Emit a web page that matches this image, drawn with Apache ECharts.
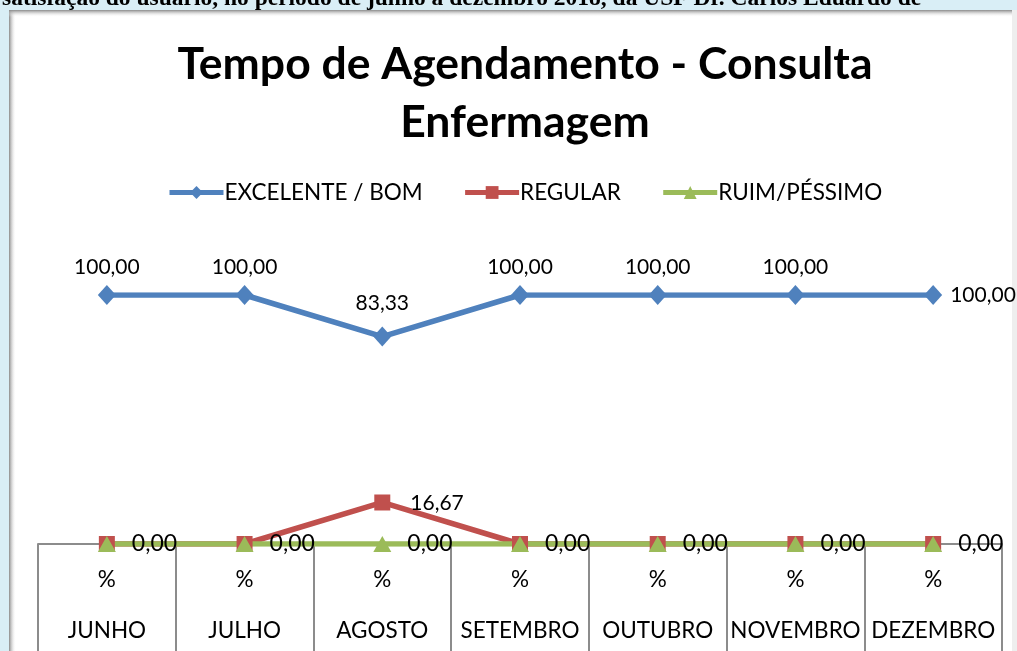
<!DOCTYPE html>
<html><head><meta charset="utf-8">
<script src="https://cdn.jsdelivr.net/npm/echarts@6/dist/echarts.min.js"></script>
<style>html,body{margin:0;padding:0;background:#d9eef6;}#c{width:1017px;height:651px;}</style>
</head><body><div id="c"></div>
<script>
var categories = ['JUNHO','JULHO','AGOSTO','SETEMBRO','OUTUBRO','NOVEMBRO','DEZEMBRO'];
var excelenteBom = [100, 100, 83.33, 100, 100, 100, 100];
var regular = [0, 0, 16.67, 0, 0, 0, 0];
var ruimPessimo = [0, 0, 0, 0, 0, 0, 0];
var seriesNames = ['EXCELENTE / BOM', 'REGULAR', 'RUIM/PÉSSIMO'];
var titleText = 'Tempo de Agendamento - Consulta\nEnfermagem';
var headerText = 'satisfação do usuário, no período de junho a dezembro 2018, da USF Dr. Carlos Eduardo de';

var FONT = 'Lato';
function fmt(v){ return v.toFixed(2).replace('.', ','); }
var chart = echarts.init(document.getElementById('c'), null, {renderer:'canvas'});
var lastIdx = categories.length - 1;
var blueMax = Math.max.apply(null, excelenteBom);

var blueData = excelenteBom.map(function(v,i){
  if (i === lastIdx) return {value:v, label:{position:'right', distance:8}};
  if (v < blueMax) return {value:v, label:{distance:13}};
  return v;
});
var redData = regular.map(function(v,i){
  return v > 0 ? {value:v, label:{show:true, position:'right', distance:20, offset:[0,1], fontSize:21}} : v;
});

chart.setOption({
  backgroundColor: 'transparent',
  animation: false,
  graphic: [
    {type:'rect', z:-10, shape:{x:9,y:10,width:1003,height:700}, style:{fill:'#ffffff'}},
    {type:'rect', z:-9, shape:{x:9,y:10,width:7,height:700}, style:{fill:new echarts.graphic.LinearGradient(0,0,1,0,[{offset:0,color:'#8a8a8a'},{offset:1,color:'rgba(255,255,255,0)'}])}},
    {type:'rect', z:-9, shape:{x:9,y:10,width:1003,height:7}, style:{fill:new echarts.graphic.LinearGradient(0,0,0,1,[{offset:0,color:'#8a8a8a'},{offset:1,color:'rgba(255,255,255,0)'}])}},
    {type:'rect', z:-9, shape:{x:1012,y:10,width:5,height:700}, style:{fill:'#eeeeee'}},
    {type:'text', z:-11, style:{x:2, y:-1, text:headerText, fill:'#000', font:'bold 23.5px "Liberation Serif"', verticalAlign:'middle', align:'left'}}
  ],
  title: {
    text: titleText, left: 520, textAlign:'center', top: 31,
    textStyle: {fontFamily: FONT, fontWeight:'bold', fontSize: 44.5, color:'#000', lineHeight: 58}
  },
  legend: {
    top: 176, left: 162,
    itemWidth: 54, itemHeight: 16, itemGap: 40,
    lineStyle: {width: 5},
    textStyle: {fontFamily: FONT, fontSize: 22.5, color:'#000', padding:[0,0,0,-4]},
    data: seriesNames
  },
  grid: {left: 38, right: 15, top: 295, bottom: 107, containLabel: false, outerBoundsMode: 'none'},
  xAxis: {
    type:'category', data: categories, boundaryGap: true,
    axisLine: {show:true, lineStyle:{color:'#8c8c8c', width:2}},
    axisTick: {show:true, length:110, lineStyle:{color:'#8c8c8c', width:2}},
    axisLabel: {
      margin: 10, interval: 0,
      formatter: function(v){ return '%\n' + v; },
      fontFamily: FONT, fontSize: 22.5, color:'#000', lineHeight: 51
    }
  },
  yAxis: {type:'value', min:0, max:100, show:false, splitLine:{show:false}},
  series: [
    {name: seriesNames[0], type:'line', data: blueData, symbol:'diamond', symbolSize:[18,20],
      itemStyle:{color:'#4f81bd'}, lineStyle:{width:5.5, color:'#4f81bd'},
      label:{show:true, position:'top', distance:7, formatter:function(p){return fmt(p.value);}, fontFamily:FONT, fontSize:21, color:'#000'}},
    {name: seriesNames[1], type:'line', data: redData, symbol:'rect', symbolSize:16,
      itemStyle:{color:'#c0504d'}, lineStyle:{width:5.5, color:'#c0504d'},
      label:{show:false, formatter:function(p){return fmt(p.value);}, fontFamily:FONT, fontSize:21, color:'#000'}},
    {name: seriesNames[2], type:'line', data: ruimPessimo, symbol:'triangle', symbolSize:[18,16],
      itemStyle:{color:'#9bbb59'}, lineStyle:{width:5.5, color:'#9bbb59'},
      label:{show:true, position:'right', distance:16, formatter:function(p){return fmt(p.value);}, fontFamily:FONT, fontSize:23, color:'#000'}}
  ]
});
</script></body></html>
